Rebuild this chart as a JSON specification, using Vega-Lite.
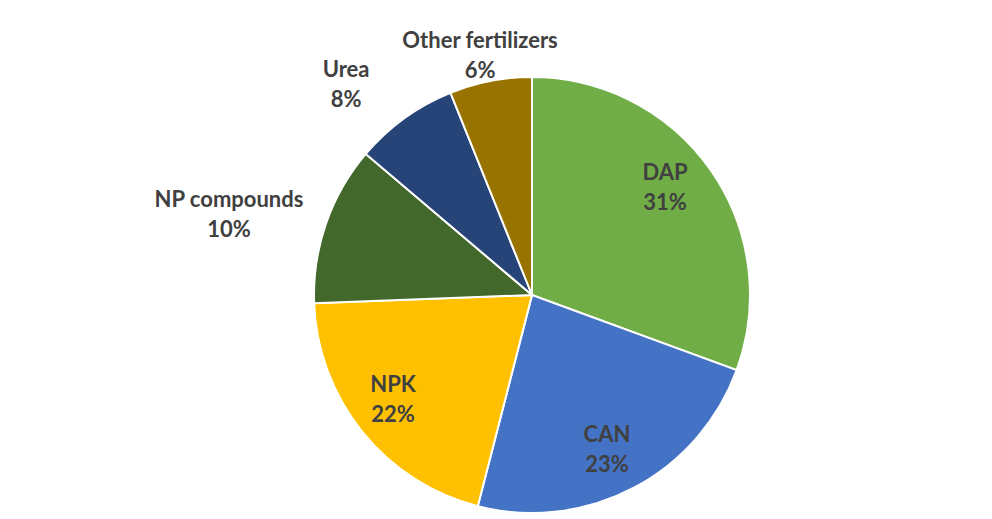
{
  "$schema": "https://vega.github.io/schema/vega-lite/v6.json",
  "width": 920,
  "height": 448,
  "autosize": {"type": "none"},
  "padding": {"left": 72, "top": 71, "right": 0, "bottom": 0},
  "background": "white",
  "config": {"view": {"stroke": null}, "text": {"font": "Lato", "fontWeight": "bold", "fontSize": 22, "color": "#404040", "fill": "#404040"}},
  "data": {"values": [
    {"idx": 1, "name": "DAP", "value": 30.6, "label": "DAP\n31%"},
    {"idx": 2, "name": "CAN", "value": 23.4, "label": "CAN\n23%"},
    {"idx": 3, "name": "NPK", "value": 20.4, "label": "NPK\n22%"},
    {"idx": 4, "name": "NP compounds", "value": 11.8, "label": "NP compounds\n10%"},
    {"idx": 5, "name": "Urea", "value": 7.7, "label": "Urea\n8%"},
    {"idx": 6, "name": "Other fertilizers", "value": 6.1, "label": "Other fertilizers\n6%"}
  ]},
  "encoding": {
    "theta": {"field": "value", "type": "quantitative", "stack": true},
    "order": {"field": "idx", "type": "quantitative"}
  },
  "layer": [
    {
      "mark": {"type": "arc", "outerRadius": 218, "stroke": "white", "strokeWidth": 2},
      "encoding": {
        "color": {"field": "name", "type": "nominal", "legend": null,
          "scale": {"domain": ["DAP", "CAN", "NPK", "NP compounds", "Urea", "Other fertilizers"],
                    "range": ["#70AD47", "#4472C4", "#FFC000", "#43682B", "#264478", "#997300"]}}
      }
    },
    {
      "mark": {"type": "text", "radius": 172, "dx": -8, "dy": -23.5, "align": "center", "baseline": "middle", "lineBreak": "\n", "lineHeight": 30},
      "encoding": {"text": {"condition": {"test": "datum.name === 'DAP'", "field": "label"}, "value": ""}}
    },
    {
      "mark": {"type": "text", "radius": 172, "dx": -5, "dy": -12, "align": "center", "baseline": "middle", "lineBreak": "\n", "lineHeight": 30},
      "encoding": {"text": {"condition": {"test": "datum.name === 'CAN'", "field": "label"}, "value": ""}}
    },
    {
      "mark": {"type": "text", "radius": 172, "dx": -5, "dy": -18, "align": "center", "baseline": "middle", "lineBreak": "\n", "lineHeight": 30},
      "encoding": {"text": {"condition": {"test": "datum.name === 'NPK'", "field": "label"}, "value": ""}}
    },
    {
      "mark": {"type": "text", "radius": 300, "dx": -19.5, "dy": 3, "align": "center", "baseline": "middle", "lineBreak": "\n", "lineHeight": 30},
      "encoding": {"text": {"condition": {"test": "datum.name === 'NP compounds'", "field": "label"}, "value": ""}}
    },
    {
      "mark": {"type": "text", "radius": 280, "dx": -22, "dy": 2, "align": "center", "baseline": "middle", "lineBreak": "\n", "lineHeight": 30},
      "encoding": {"text": {"condition": {"test": "datum.name === 'Urea'", "field": "label"}, "value": ""}}
    },
    {
      "mark": {"type": "text", "radius": 244, "dx": -5.5, "dy": -14.5, "align": "center", "baseline": "middle", "lineBreak": "\n", "lineHeight": 30},
      "encoding": {"text": {"condition": {"test": "datum.name === 'Other fertilizers'", "field": "label"}, "value": ""}}
    }
  ]
}
